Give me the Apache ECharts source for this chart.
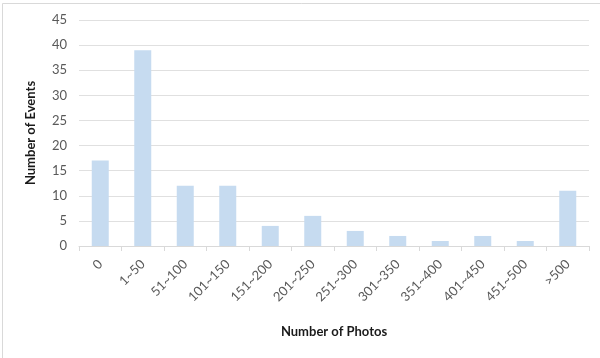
<!DOCTYPE html>
<html>
<head>
<meta charset="utf-8">
<script src="https://cdn.jsdelivr.net/npm/echarts@6/dist/echarts.min.js"></script>
<style>
html,body{margin:0;padding:0;background:#fff;}
#chart{width:600px;height:358px;}
</style>
</head>
<body>
<div id="chart"></div>
<script>
const categories = ['0','1~50','51~100','101~150','151~200','201~250','251~300','301~350','351~400','401~450','451~500','>500'];
const events = [17, 39, 12, 12, 4, 6, 3, 2, 1, 2, 1, 11];
const yTicks = { min: 0, max: 45, interval: 5 };

const FONT = 'Lato, "Open Sans", sans-serif';
const chart = echarts.init(document.getElementById('chart'), null, {renderer: 'canvas'});
chart.setOption({
  animation: false,
  backgroundColor: '#fff',
  graphic: [
    { type: 'line', shape: { x1: 2.5, y1: 3.5, x2: 600, y2: 3.5 }, style: { stroke: '#d9d9d9', lineWidth: 1 } },
    { type: 'line', shape: { x1: 2.5, y1: 3.5, x2: 2.5, y2: 358 }, style: { stroke: '#d9d9d9', lineWidth: 1 } }
  ],
  grid: { left: 79, right: 11, top: 20, bottom: 112, containLabel: false },
  xAxis: {
    type: 'category',
    data: categories,
    name: 'Number of Photos',
    nameLocation: 'middle',
    nameGap: 79,
    nameTextStyle: { fontFamily: FONT, fontSize: 13, fontWeight: 'bold', color: '#1a1a1a' },
    axisLine: { lineStyle: { color: '#d9d9d9', width: 1 } },
    axisTick: { show: true, length: 5, lineStyle: { color: '#d9d9d9' } },
    axisLabel: { rotate: 45, margin: 16, fontFamily: FONT, fontSize: 13, color: '#595959', interval: 0 }
  },
  yAxis: {
    type: 'value',
    min: yTicks.min, max: yTicks.max, interval: yTicks.interval,
    name: 'Number of Events',
    nameLocation: 'middle',
    nameGap: 42,
    nameTextStyle: { fontFamily: FONT, fontSize: 13, fontWeight: 'bold', color: '#1a1a1a' },
    axisLine: { show: false },
    axisTick: { show: false },
    axisLabel: { margin: 12, fontFamily: FONT, fontSize: 13, color: '#595959' },
    splitLine: { lineStyle: { color: '#e0e0e0', width: 1 } }
  },
  series: [{
    type: 'bar',
    data: events,
    barWidth: '40%',
    itemStyle: { color: '#c6dbf0' }
  }]
});
</script>
</body>
</html>
